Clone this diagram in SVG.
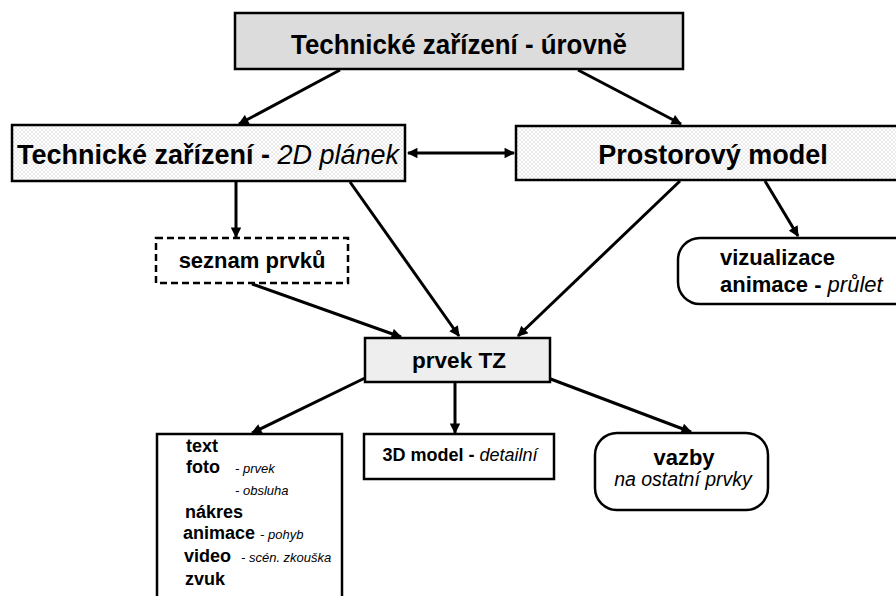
<svg xmlns="http://www.w3.org/2000/svg" width="896" height="596" viewBox="0 0 896 596">
<style>
text{font-family:"Liberation Sans",Arial,sans-serif;fill:#000}
.b{font-weight:bold}
.i{font-style:italic;font-weight:normal}
.box{stroke:#000;stroke-width:2.5}
.con{stroke:#000;stroke-width:3;fill:none;marker-end:url(#ah)}
</style>
<defs>
<marker id="ah" viewBox="0 0 10 10" refX="9" refY="5" markerWidth="4" markerHeight="3.5" orient="auto-start-reverse" markerUnits="strokeWidth">
<path d="M0,0 L10,5 L0,10 z" fill="#000"/>
</marker>
<pattern id="hatch" width="4" height="4" patternUnits="userSpaceOnUse">
<rect width="4" height="4" fill="#ffffff"/>
<path d="M0,0 L4,4 M4,0 L0,4" stroke="#dddddd" stroke-width="0.6"/>
</pattern>
</defs>
<rect width="896" height="596" fill="#fff"/>
<g id="connectors">
<line class="con" x1="340" y1="70" x2="239" y2="124"/>
<line class="con" x1="578" y1="70" x2="681" y2="124"/>
<line class="con" x1="408" y1="153" x2="514" y2="153" marker-start="url(#ah)"/>
<line class="con" x1="236" y1="182" x2="236" y2="237"/>
<line class="con" x1="350" y1="182" x2="459" y2="336"/>
<line class="con" x1="252" y1="284" x2="401" y2="337"/>
<line class="con" x1="680" y1="181" x2="518" y2="336"/>
<line class="con" x1="765" y1="181" x2="798" y2="236"/>
<line class="con" x1="365" y1="378" x2="252" y2="433"/>
<line class="con" x1="455" y1="383" x2="455" y2="433"/>
<line class="con" x1="548" y1="378" x2="691" y2="432"/>
</g>
<g id="top">
<rect class="box" x="235" y="13" width="448" height="56" fill="#dcdcdc"/>
<text class="b" x="459" y="54" font-size="27" text-anchor="middle" textLength="336" lengthAdjust="spacingAndGlyphs">Technické zařízení - úrovně</text>
</g>
<g id="plan2d">
<rect class="box" x="12" y="125" width="393" height="56" fill="url(#hatch)"/>
<text class="b" x="208" y="164" font-size="27" text-anchor="middle">Technické zařízení - <tspan class="i">2D plánek</tspan></text>
</g>
<g id="prostor">
<rect class="box" x="516" y="126" width="390" height="54" fill="url(#hatch)"/>
<text class="b" x="713" y="164" font-size="27" text-anchor="middle">Prostorový model</text>
</g>
<g id="seznam">
<rect x="156" y="238" width="192" height="45" fill="#fff" stroke="#000" stroke-width="2.5" stroke-dasharray="7,4"/>
<text class="b" x="252" y="268" font-size="22" text-anchor="middle">seznam prvků</text>
</g>
<g id="vizualizace">
<rect class="box" x="678" y="238" width="240" height="66" rx="22" ry="22" fill="#fff"/>
<text class="b" x="720" y="265" font-size="22">vizualizace</text>
<text class="b" x="720" y="292" font-size="22">animace - <tspan class="i">průlet</tspan></text>
</g>
<g id="prvek">
<rect class="box" x="365" y="338" width="185" height="44" fill="#eeeeee"/>
<text class="b" x="459" y="368" font-size="22.5" text-anchor="middle">prvek TZ</text>
</g>
<g id="media">
<rect class="box" x="157" y="434" width="185" height="170" fill="#fff"/>
<text class="b" x="186" y="452" font-size="18">text</text>
<text class="b" x="186" y="473" font-size="18">foto</text>
<text class="i" x="235" y="473" font-size="13">- prvek</text>
<text class="i" x="235" y="495" font-size="13">- obsluha</text>
<text class="b" x="185" y="518" font-size="18">nákres</text>
<text class="b" x="183" y="539" font-size="18">animace</text>
<text class="i" x="260" y="539" font-size="13">- pohyb</text>
<text class="b" x="184" y="562" font-size="18">video</text>
<text class="i" x="241" y="562" font-size="13">- scén. zkouška</text>
<text class="b" x="185" y="585" font-size="18">zvuk</text>
</g>
<g id="model3d">
<rect class="box" x="364" y="434" width="190" height="45" fill="#fff"/>
<text class="b" x="460" y="461" font-size="18" text-anchor="middle">3D model - <tspan class="i">detailní</tspan></text>
</g>
<g id="vazby">
<rect class="box" x="595" y="433" width="173" height="77" rx="22" ry="22" fill="#fff"/>
<text class="b" x="684" y="465" font-size="22" text-anchor="middle">vazby</text>
<text class="i" x="683" y="486" font-size="19.5" text-anchor="middle">na ostatní prvky</text>
</g>
</svg>
